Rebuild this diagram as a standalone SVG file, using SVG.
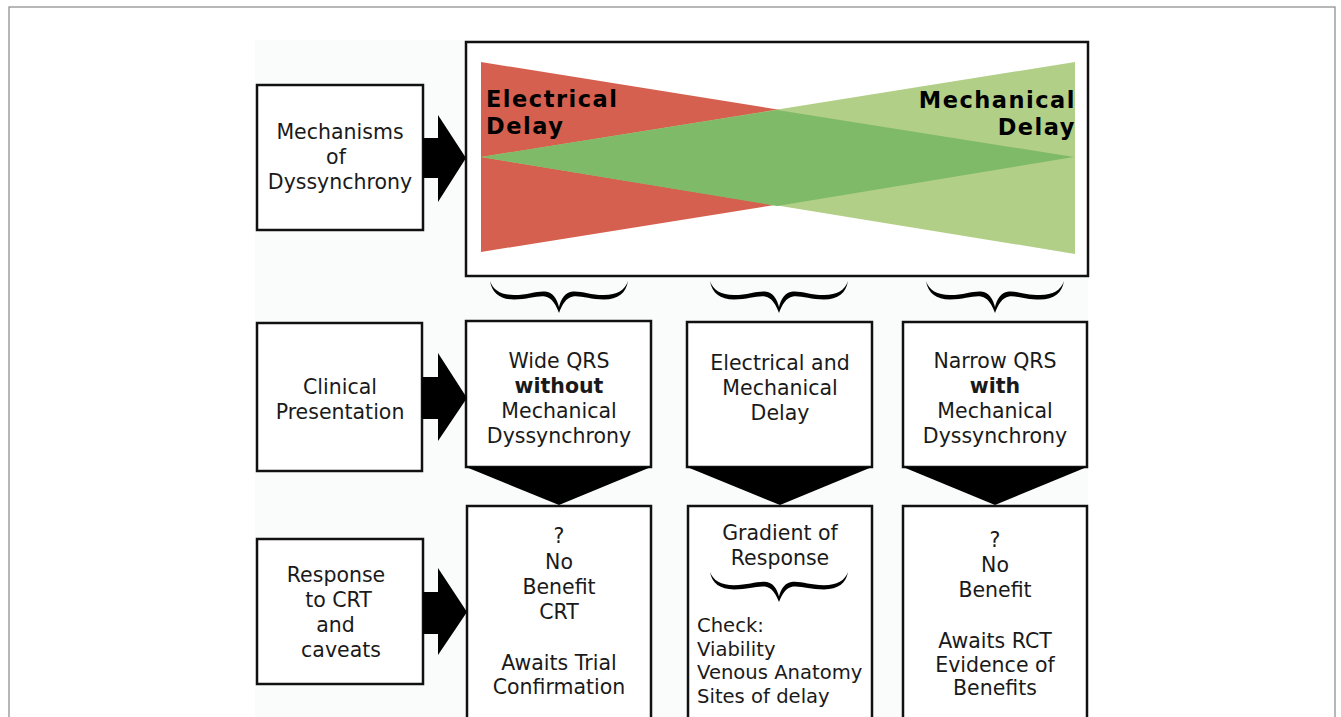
<svg xmlns="http://www.w3.org/2000/svg" width="1341" height="717" viewBox="0 0 1341 717">
<defs>
<style>
.box{fill:#fff;stroke:#111;stroke-width:2.5}
.t{font-family:"DejaVu Sans",Verdana,sans-serif;font-size:20.5px;fill:#1a1a1a;text-anchor:middle}
.tl{text-anchor:start;font-size:19.6px}
.b{font-weight:bold}
.big{font-family:"DejaVu Sans",Verdana,sans-serif;font-size:22.5px;letter-spacing:1.5px;font-weight:bold;fill:#000}
.blk{fill:#000}
</style>
<path id="brace" d="M0,0 C2,12 10,18.5 24,18.5 C38,18.5 47,14.5 55,15.5 C62,16.5 66,24 69,32 C72,24 76,16.5 83,15.5 C91,14.5 100,18.5 114,18.5 C128,18.5 136,12 138,0 C135,9 127,14 114,14 C100,14 92,10 83,10.5 C75,11 71,18 69,26 C67,18 63,11 55,10.5 C46,10 38,14 24,14 C11,14 3,9 0,0 Z"/>
</defs>
<rect x="0" y="0" width="1341" height="717" fill="#fff"/>
<rect x="9" y="7" width="1326" height="720" fill="#fff" stroke="#888" stroke-width="1.2"/>
<rect x="255" y="40" width="833" height="690" fill="#fafbfb"/>

<g id="mechanisms">
<rect class="box" x="257" y="85" width="166" height="145"/>
<text class="t" x="340" y="139">Mechanisms</text>
<text class="t" x="336" y="164">of</text>
<text class="t" x="340" y="189">Dyssynchrony</text>
</g>

<g id="delay-spectrum">
<rect class="box" x="466" y="42" width="622" height="234"/>
<polygon points="481,62 481,252 1074,157" fill="#d5604f"/>
<polygon points="1075,62 1075,254 481,157" fill="#b2cf87"/>
<polygon points="481,157 777,110 1074,157 777,206" fill="#7fba69"/>
<text class="big" x="486" y="107">Electrical</text>
<text class="big" x="486" y="133.5">Delay</text>
<text class="big" x="1076" y="108" text-anchor="end">Mechanical</text>
<text class="big" x="1076" y="134.5" text-anchor="end">Delay</text>
</g>

<g id="clinical">
<rect class="box" x="257" y="323" width="165" height="148"/>
<text class="t" x="340" y="394">Clinical</text>
<text class="t" x="340" y="419">Presentation</text>
</g>

<g id="wide-qrs">
<rect class="box" x="466" y="321" width="185" height="146"/>
<text class="t" x="559" y="368">Wide QRS</text>
<text class="t b" x="559" y="393">without</text>
<text class="t" x="559" y="418">Mechanical</text>
<text class="t" x="559" y="443">Dyssynchrony</text>
</g>

<g id="elec-mech">
<rect class="box" x="687" y="322" width="185" height="145"/>
<text class="t" x="780" y="370">Electrical and</text>
<text class="t" x="780" y="395">Mechanical</text>
<text class="t" x="780" y="420">Delay</text>
</g>

<g id="narrow-qrs">
<rect class="box" x="903" y="322" width="184" height="145"/>
<text class="t" x="995" y="368">Narrow QRS</text>
<text class="t b" x="995" y="393">with</text>
<text class="t" x="995" y="418">Mechanical</text>
<text class="t" x="995" y="443">Dyssynchrony</text>
</g>

<g id="response">
<rect class="box" x="257" y="539" width="166" height="145"/>
<text class="t" x="336" y="582">Response</text>
<text class="t" x="338.5" y="607">to CRT</text>
<text class="t" x="335.5" y="632">and</text>
<text class="t" x="341" y="657">caveats</text>
</g>

<g id="no-benefit-crt">
<rect class="box" x="467" y="506" width="184" height="230"/>
<text class="t" x="559" y="543">?</text>
<text class="t" x="559" y="569">No</text>
<text class="t" x="559" y="594">Benefit</text>
<text class="t" x="559" y="619">CRT</text>
<text class="t" x="559" y="670">Awaits Trial</text>
<text class="t" x="559" y="694">Confirmation</text>
</g>

<g id="gradient">
<rect class="box" x="688" y="506" width="184" height="230"/>
<text class="t" x="780" y="540">Gradient of</text>
<text class="t" x="780" y="565">Response</text>
<use href="#brace" class="blk" transform="translate(710,572) scale(1,0.94)"/>
<text class="t tl" x="697" y="632">Check:</text>
<text class="t tl" x="697" y="655.5">Viability</text>
<text class="t tl" x="697" y="679">Venous Anatomy</text>
<text class="t tl" x="697" y="702.5">Sites of delay</text>
</g>

<g id="no-benefit-rct">
<rect class="box" x="903" y="506" width="184" height="230"/>
<text class="t" x="995" y="547">?</text>
<text class="t" x="995" y="572">No</text>
<text class="t" x="995" y="597">Benefit</text>
<text class="t" x="995" y="648">Awaits RCT</text>
<text class="t" x="995" y="672">Evidence of</text>
<text class="t" x="995" y="695">Benefits</text>
</g>

<g id="connectors" class="blk">
<polygon points="423,138 438,138 438,115 466,158 438,202 438,178 423,178"/>
<polygon points="422,377 438,377 438,353 467,398 438,441 438,419 422,419"/>
<polygon points="423,592 438,592 438,568 467,612 438,655 438,634 423,634"/>
<use href="#brace" transform="translate(490,281)"/>
<use href="#brace" transform="translate(710,281)"/>
<use href="#brace" transform="translate(926,281)"/>
<polygon points="466,467 651,467 559,505"/>
<polygon points="687,467 872,467 780,505"/>
<polygon points="903,467 1087,467 995,505"/>
</g>
</svg>
